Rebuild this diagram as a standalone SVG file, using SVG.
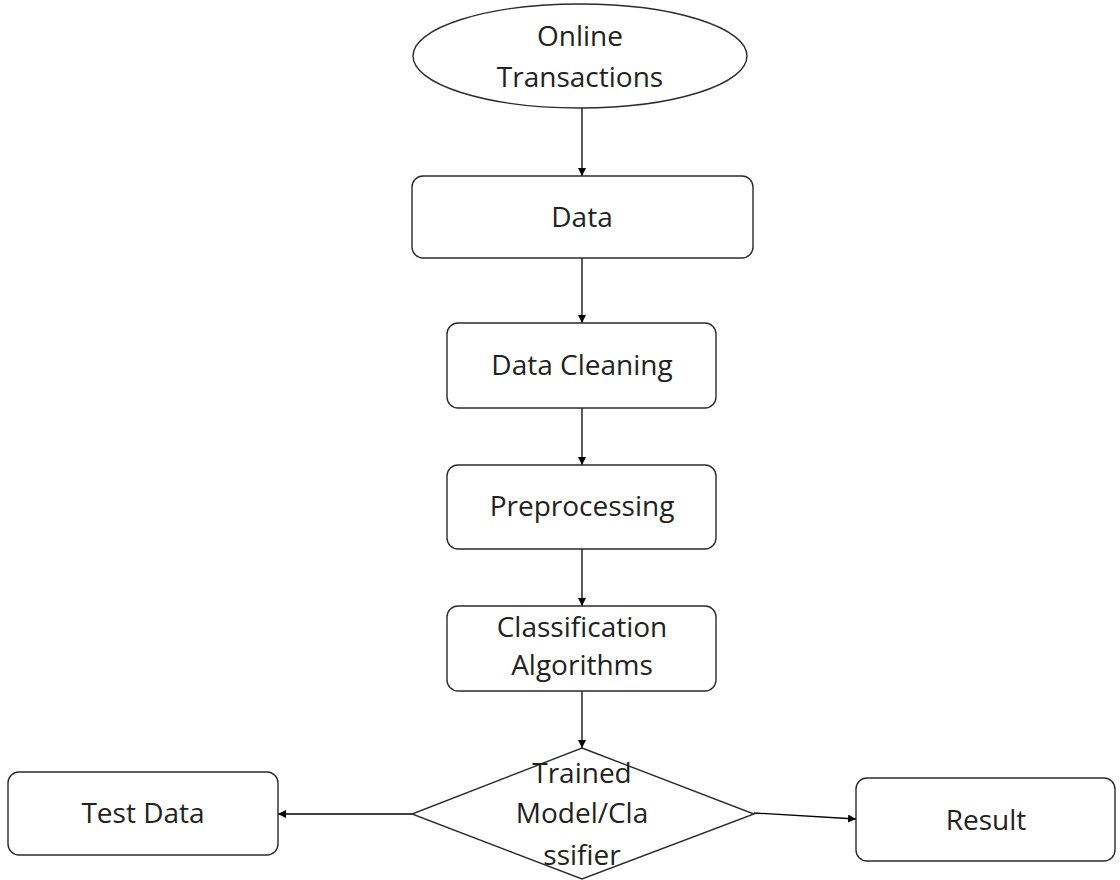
<svg xmlns="http://www.w3.org/2000/svg" width="1120" height="880" viewBox="0 0 1120 880">
<style>
.shape{fill:#fff;stroke:#2b2b2b;stroke-width:1.4}
.lbl{font-family:"Open Sans","Liberation Sans",sans-serif;font-size:28px;fill:#222;text-anchor:middle}
.edge{stroke:#000;stroke-width:1.3;fill:none;marker-end:url(#ah)}
</style>
<defs>
<marker id="ah" viewBox="0 0 10 10" refX="10" refY="5" markerWidth="8" markerHeight="8" markerUnits="userSpaceOnUse" orient="auto">
<path d="M0,0 L10,5 L0,10 z" fill="#000"/>
</marker>
</defs>
<rect width="1120" height="880" fill="#fff"/>
<g id="connectors">
<line class="edge" x1="582" y1="108" x2="582" y2="176"/>
<line class="edge" x1="582" y1="258" x2="582" y2="323"/>
<line class="edge" x1="582" y1="408" x2="582" y2="465"/>
<line class="edge" x1="582" y1="549" x2="582" y2="606"/>
<line class="edge" x1="582" y1="691" x2="582" y2="748"/>
<line class="edge" x1="412" y1="814" x2="278" y2="814"/>
<line class="edge" x1="754" y1="813" x2="856" y2="819"/>
</g>
<g id="online-transactions">
<ellipse class="shape" cx="580" cy="56" rx="167" ry="52"/>
<text class="lbl" x="580" y="46">Online</text>
<text class="lbl" x="580" y="87">Transactions</text>
</g>
<g id="data">
<rect class="shape" x="412" y="176" width="341" height="82" rx="11"/>
<text class="lbl" x="582" y="227">Data</text>
</g>
<g id="data-cleaning">
<rect class="shape" x="447" y="323" width="269" height="85" rx="11"/>
<text class="lbl" x="582" y="375">Data Cleaning</text>
</g>
<g id="preprocessing">
<rect class="shape" x="447" y="465" width="269" height="84" rx="11"/>
<text class="lbl" x="582" y="516">Preprocessing</text>
</g>
<g id="classification">
<rect class="shape" x="447" y="606" width="269" height="85" rx="11"/>
<text class="lbl" x="582" y="637">Classification</text>
<text class="lbl" x="582" y="675">Algorithms</text>
</g>
<g id="trained-model">
<polygon class="shape" points="582,748 754,814 582,879 412,814"/>
<text class="lbl" x="582" y="783">Trained</text>
<text class="lbl" x="582" y="823">Model/Cla</text>
<text class="lbl" x="582" y="865">ssifier</text>
</g>
<g id="test-data">
<rect class="shape" x="8" y="772" width="270" height="83" rx="11"/>
<text class="lbl" x="143" y="823">Test Data</text>
</g>
<g id="result">
<rect class="shape" x="856" y="778" width="259" height="83" rx="11"/>
<text class="lbl" x="986" y="830">Result</text>
</g>
</svg>
